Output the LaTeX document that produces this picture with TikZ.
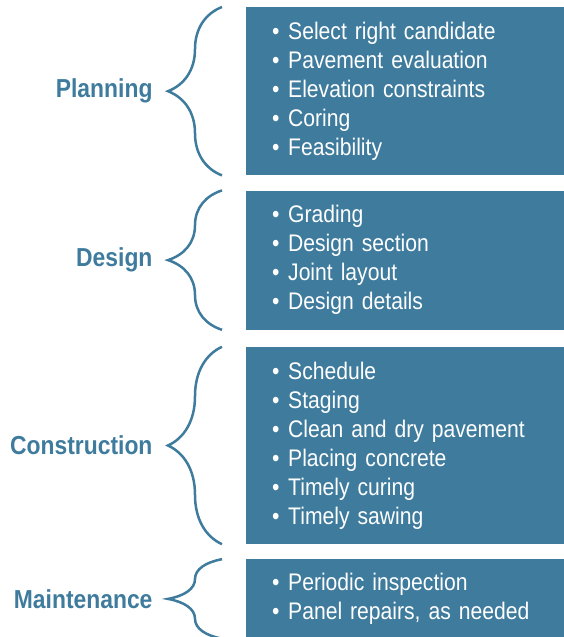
\documentclass[tikz,border=0pt]{standalone}
\usepackage{fontspec}
\setmainfont{Liberation Sans}[FakeStretch=0.88]
\usepackage{tikz}
\usetikzlibrary{positioning,calc,decorations.pathreplacing}
\definecolor[named]{Steel}{RGB}{62,123,157}
\newcommand{\itm}[1]{\makebox[16pt][l]{\textbullet}#1\\}
\tikzset{stage/.style ={
        fill=Steel,
        text=white,
        minimum width=318pt,
        text width=266pt,
        inner xsep=26pt,
        inner ysep=0pt,
        align=left,
        font=\fontsize{24}{29}\selectfont,
    },
    phase/.style ={
        text=Steel,
        anchor=east,
        font=\fontsize{26}{30}\selectfont\bfseries,
    },
    curly/.style ={
        draw=Steel,
        line width=2.5pt,
        decorate,
        decoration={brace,amplitude=54pt},
    }}

\begin{document}
\begin{tikzpicture}[node distance=15pt]
	\useasboundingbox (0,0) rectangle (564pt,-637pt);
	\node[stage,minimum height=168pt,anchor=north west] (plan) at (246pt,-7pt)
		{\itm{Select right candidate}\itm{Pavement evaluation}\itm{Elevation constraints}\itm{Coring}\itm{Feasibility}};
	\node[stage,minimum height=139pt,below=of plan] (design)
		{\itm{Grading}\itm{Design section}\itm{Joint layout}\itm{Design details}};
	\node[stage,minimum height=197pt,below=17pt of design] (build)
		{\itm{Schedule}\itm{Staging}\itm{Clean and dry pavement}\itm{Placing concrete}\itm{Timely curing}\itm{Timely sawing}};
	\node[stage,minimum height=79pt,below=of build] (maint)
		{\itm{Periodic inspection}\itm{Panel repairs, as needed}};
	% braces and phase names
	\foreach \stg/\name in {plan/Planning,design/Design,build/Construction,maint/Maintenance}{
		\draw[curly] ($(\stg.south west)+(-24pt,0)$) -- ($(\stg.north west)+(-24pt,0)$);
		\node[phase] (\stg-name) at ($(\stg.west)+(-90pt,0)$) {\name};
	}
\end{tikzpicture}
\end{document}
